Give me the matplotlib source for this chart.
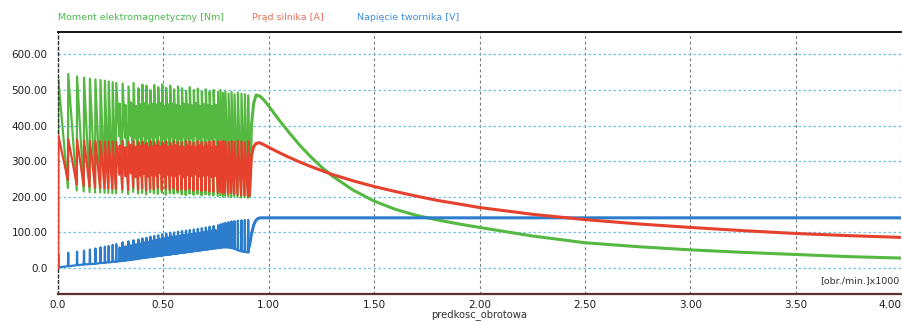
import numpy as np
import matplotlib.pyplot as plt

# Rozruch silnika: predkosc w [obr./min.]x1000
# Czesc oscylacyjna: polozenia kolejnych cykli i wartosci dolne/gorne
cycle_speed = [0.000, 0.047, 0.089, 0.122, 0.150, 0.176, 0.200, 0.221, 0.239, 0.258,
               0.275, 0.291, 0.305, 0.319, 0.333, 0.345, 0.357, 0.369, 0.380, 0.390,
               0.399, 0.408, 0.418, 0.427, 0.437, 0.446, 0.455, 0.465, 0.474, 0.484,
               0.493, 0.502, 0.512, 0.521, 0.531, 0.540, 0.549, 0.559, 0.568, 0.577,
               0.587, 0.596, 0.606, 0.615, 0.624, 0.634, 0.643, 0.653, 0.662, 0.671,
               0.681, 0.690, 0.700, 0.709, 0.718, 0.728, 0.737, 0.746, 0.758, 0.770,
               0.782, 0.793, 0.808, 0.822, 0.836, 0.852, 0.869, 0.885, 0.901]

moment_hi = [530, 545, 538, 535, 532, 530, 528, 526, 524, 522,
             520, 462, 518, 458, 510, 465, 520, 455, 505, 460,
             515, 463, 512, 457, 500, 461, 514, 459, 508, 464,
             516, 456, 506, 460, 512, 462, 502, 458, 510, 455,
             505, 461, 498, 459, 508, 457, 500, 463, 504, 456,
             496, 460, 502, 458, 495, 455, 500, 459, 495, 500,
             492, 497, 490, 495, 488, 493, 490, 488, 485]
moment_lo = [0, 225, 218, 215, 213, 212, 212, 211, 211, 210,
             210, 370, 212, 366, 208, 372, 214, 364, 209, 368,
             211, 371, 207, 365, 213, 369, 210, 367, 208, 373,
             212, 364, 206, 368, 210, 370, 209, 366, 211, 363,
             207, 369, 205, 367, 209, 365, 206, 371, 208, 364,
             204, 368, 207, 366, 205, 363, 204, 367, 202, 205,
             200, 203, 201, 199, 202, 200, 198, 200, 197]

prad_hi = [372, 362, 360, 358, 357, 356, 356, 355, 355, 355,
           354, 344, 356, 340, 353, 346, 357, 341, 354, 343,
           355, 345, 352, 339, 356, 342, 354, 344, 357, 341,
           353, 346, 355, 340, 352, 343, 356, 345, 354, 341,
           353, 339, 357, 344, 355, 342, 352, 340, 356, 345,
           354, 341, 353, 343, 355, 340, 356, 342, 356, 354,
           357, 355, 353, 356, 354, 357, 355, 353, 356]
prad_lo = [0, 247, 235, 230, 228, 226, 225, 224, 224, 223,
           222, 262, 222, 258, 219, 266, 226, 255, 220, 260,
           224, 264, 218, 257, 223, 261, 221, 259, 225, 267,
           219, 256, 222, 262, 220, 260, 224, 258, 218, 264,
           221, 255, 219, 261, 222, 259, 217, 263, 220, 257,
           216, 260, 218, 262, 215, 256, 214, 259, 212, 214,
           210, 212, 209, 211, 208, 206, 205, 204, 202]

napiecie_hi = [38, 43, 46, 49, 52, 55, 58, 60, 62, 65,
               67, 58, 72, 61, 75, 64, 78, 67, 80, 69,
               83, 72, 85, 74, 88, 77, 90, 79, 92, 81,
               95, 84, 97, 86, 99, 88, 100, 89, 102, 91,
               104, 93, 105, 94, 107, 96, 108, 97, 110, 99,
               112, 101, 114, 103, 116, 105, 118, 107, 120, 123,
               125, 127, 129, 131, 132, 133, 134, 135, 135]
napiecie_lo = [2, 5, 8, 10, 11, 12, 14, 15, 16, 17,
               18, 19, 20, 21, 22, 23, 24, 25, 26, 27,
               28, 28, 29, 30, 31, 31, 32, 33, 34, 34,
               35, 36, 37, 37, 38, 39, 40, 40, 41, 42,
               43, 43, 44, 45, 46, 46, 47, 48, 49, 49,
               50, 51, 52, 52, 53, 54, 55, 55, 56, 57,
               58, 58, 58, 56, 54, 50, 47, 45, 44]

# Przebiegi gladkie po zakonczeniu oscylacji
moment_tail_speed = [0.908, 0.918, 0.928, 0.940, 0.960, 0.980, 1.000, 1.050, 1.100, 1.150,
                     1.200, 1.250, 1.300, 1.400, 1.500, 1.600, 1.700, 1.800, 1.900, 2.000,
                     2.250, 2.500, 2.750, 3.000, 3.250, 3.500, 3.750, 4.000]
moment_tail = [200, 400, 462, 486, 482, 470, 455, 415, 378, 343,
               312, 284, 259, 219, 188, 165, 148, 135, 124, 114,
               90, 71, 60, 51, 44, 38, 32, 28]

prad_tail_speed = [0.908, 0.918, 0.928, 0.940, 0.955, 0.975, 1.000, 1.050, 1.100, 1.150,
                   1.200, 1.250, 1.300, 1.400, 1.500, 1.600, 1.700, 1.800, 1.900, 2.000,
                   2.250, 2.500, 2.750, 3.000, 3.250, 3.500, 3.750, 4.000]
prad_tail = [203, 315, 340, 350, 352, 347, 339, 324, 310, 297,
             285, 274, 263, 245, 229, 215, 202, 190, 180, 170,
             151, 136, 124, 114, 105, 97, 91, 86]

napiecie_tail_speed = [0.908, 0.918, 0.928, 0.938, 0.948, 0.960, 4.000]
napiecie_tail = [60, 95, 120, 133, 139, 141, 141]

xticks = [0.0, 0.5, 1.0, 1.5, 2.0, 2.5, 3.0, 3.5, 4.0]
xtick_labels = ['0.0', '0.50', '1.00', '1.50', '2.00', '2.50', '3.00', '3.50', '4.00']
yticks = [0, 100, 200, 300, 400, 500, 600]
ytick_labels = ['0.0', '100.00', '200.00', '300.00', '400.00', '500.00', '600.00']

GREEN = '#55b941'
RED = '#e6412d'
BLUE = '#2d7dcd'
DX = 0.0015


def sawtooth(xs, lows, highs):
    # szybki narost do wartosci gornej, potem opadanie do kolejnego minimum
    px, py = [], []
    for x, lo, hi in zip(xs, lows, highs):
        px += [x, x + DX]
        py += [lo, hi]
    return px, py


def comb(xs, lows, highs):
    # waskie impulsy nad narastajaca podstawa
    px, py = [], []
    for x, lo, hi in zip(xs, lows, highs):
        px += [x, x + DX, x + 2 * DX]
        py += [lo, hi, lo]
    return px, py


plt.rcParams['font.family'] = 'DejaVu Sans'

fig = plt.figure(figsize=(9.02, 3.22), dpi=100)
ax = fig.add_axes([58 / 902, 28 / 322, 843 / 902, 262 / 322])

series = [
    (sawtooth(cycle_speed, moment_lo, moment_hi), moment_tail_speed, moment_tail, GREEN, 2),
    (comb(cycle_speed, napiecie_lo, napiecie_hi), napiecie_tail_speed, napiecie_tail, BLUE, 3),
    (sawtooth(cycle_speed, prad_lo, prad_hi), prad_tail_speed, prad_tail, RED, 4),
]
for (ox, oy), tx, ty, col, z in series:
    ax.plot(ox + [tx[0]], oy + [ty[0]], color=col, lw=1.6, zorder=z)
    ax.plot(tx, ty, color=col, lw=2.2, zorder=z, solid_capstyle='butt')

ax.set_xlim(0, 4.0)
ax.set_ylim(-73, 663)
ax.set_xticks(xticks)
ax.set_xticklabels(xtick_labels)
ax.set_yticks(yticks)
ax.set_yticklabels(ytick_labels)
ax.get_xticklabels()[-1].set_ha('right')
ax.tick_params(length=0, labelsize=7.5, colors='#202020')
ax.tick_params(axis='y', pad=7.5)
ax.tick_params(axis='x', pad=4.0)

ax.set_axisbelow(True)
ax.yaxis.grid(True, color='#6cc3ea', ls=(0, (2, 2)), lw=0.9)
ax.xaxis.grid(True, color='#7a7a7a', ls=(0, (2.5, 2.5)), lw=0.8)

ax.spines['right'].set_visible(False)
ax.spines['top'].set_color('black')
ax.spines['top'].set_linewidth(1.3)
ax.spines['bottom'].set_color('#5a3030')
ax.spines['bottom'].set_linewidth(1.6)
ax.spines['left'].set_color('#303030')
ax.spines['left'].set_linestyle((0, (2, 2)))
ax.spines['left'].set_linewidth(1.0)

ax.text(0.998, 0.05, '[obr./min.]x1000', transform=ax.transAxes,
        ha='right', va='center', fontsize=6.8, color='#303030')
ax.set_xlabel('predkosc_obrotowa', fontsize=7.2, color='#303030')
ax.xaxis.set_label_coords(0.5, -0.078)
ax.xaxis.label.set_va('center')

fig.text(58 / 902, 1 - 18 / 322, 'Moment elektromagnetyczny [Nm]',
         color='#4db84d', fontsize=6.8, va='center')
fig.text(252 / 902, 1 - 18 / 322, 'Prąd silnika [A]',
         color='#e8705a', fontsize=6.8, va='center')
fig.text(357 / 902, 1 - 18 / 322, 'Napięcie twornika [V]',
         color='#3d90dd', fontsize=6.8, va='center')

fig.savefig('out.png', dpi=100)
